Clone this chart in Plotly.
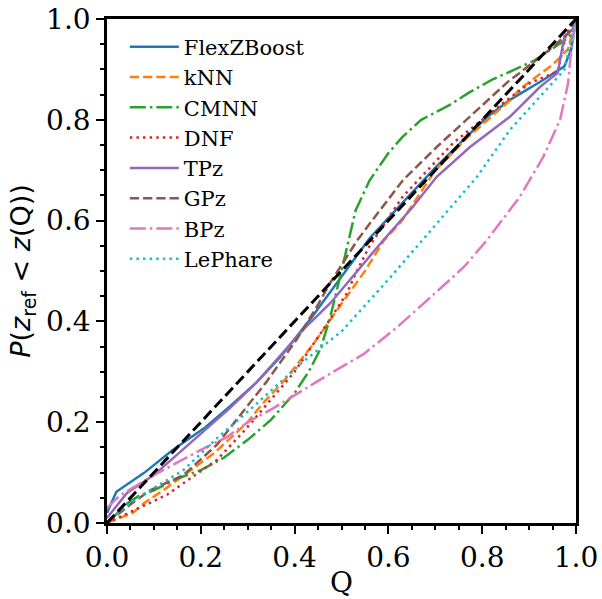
import plotly.graph_objects as go

# ---- data ----
names = ["FlexZBoost", "kNN", "CMNN", "DNF", "TPz", "GPz", "BPz", "LePhare"]
colors = ["#1f77b4", "#ff7f0e", "#2ca02c", "#d62728", "#9467bd", "#8c564b", "#e377c2", "#17becf"]

q_flex = [0, 0.02, 0.08, 0.14, 0.21, 0.26, 0.32, 0.37, 0.43, 0.5, 0.56, 0.63, 0.7, 0.76, 0.81, 0.86, 0.93, 0.975, 0.99, 1.0]
p_flex = [0.02, 0.062, 0.1, 0.145, 0.19, 0.23, 0.28, 0.33, 0.4, 0.49, 0.565, 0.635, 0.705, 0.76, 0.805, 0.84, 0.879, 0.906, 0.94, 1.0]

q_knn = [0, 0.025, 0.055, 0.08, 0.12, 0.16, 0.23, 0.3, 0.33, 0.38, 0.44, 0.5, 0.55, 0.59, 0.63, 0.7, 0.77, 0.86, 0.88, 0.95, 0.983, 1.0]
p_knn = [0, 0.009, 0.02, 0.04, 0.065, 0.092, 0.14, 0.2, 0.235, 0.285, 0.355, 0.435, 0.5, 0.56, 0.601, 0.7, 0.766, 0.839, 0.861, 0.909, 0.94, 1.0]

q_cmnn = [0, 0.045, 0.07, 0.1, 0.15, 0.2, 0.25, 0.3, 0.35, 0.4, 0.43, 0.455, 0.475, 0.49, 0.5, 0.515, 0.53, 0.56, 0.6, 0.63, 0.67, 0.73, 0.77, 0.82, 0.91, 0.975, 0.99, 1.0]
p_cmnn = [0, 0.04, 0.055, 0.065, 0.088, 0.105, 0.13, 0.165, 0.205, 0.258, 0.3, 0.345, 0.405, 0.46, 0.5, 0.56, 0.62, 0.68, 0.734, 0.766, 0.8, 0.829, 0.853, 0.879, 0.917, 0.957, 0.97, 1.0]

q_dnf = [0, 0.028, 0.07, 0.128, 0.18, 0.234, 0.29, 0.34, 0.4, 0.469, 0.511, 0.53, 0.56, 0.63, 0.738, 0.844, 0.902, 0.961, 0.979, 1.0]
p_dnf = [0, 0.012, 0.03, 0.056, 0.09, 0.125, 0.18, 0.235, 0.3, 0.395, 0.455, 0.495, 0.55, 0.647, 0.754, 0.833, 0.873, 0.896, 0.97, 1.0]

q_tpz = [0, 0.043, 0.1, 0.18, 0.262, 0.32, 0.369, 0.42, 0.476, 0.53, 0.589, 0.65, 0.703, 0.774, 0.859, 0.923, 0.961, 0.975, 0.993, 1.0]
p_tpz = [0.01, 0.06, 0.095, 0.16, 0.228, 0.28, 0.332, 0.385, 0.436, 0.495, 0.561, 0.625, 0.687, 0.746, 0.806, 0.865, 0.893, 0.964, 0.98, 1.0]

q_gpz = [0, 0.049, 0.092, 0.163, 0.234, 0.284, 0.34, 0.405, 0.448, 0.475, 0.533, 0.561, 0.631, 0.703, 0.774, 0.859, 0.88, 0.953, 0.99, 1.0]
p_gpz = [0, 0.036, 0.065, 0.095, 0.155, 0.215, 0.28, 0.365, 0.43, 0.475, 0.56, 0.595, 0.68, 0.746, 0.806, 0.879, 0.893, 0.946, 0.978, 1.0]

q_bpz = [0, 0.028, 0.1, 0.15, 0.2, 0.255, 0.3, 0.355, 0.42, 0.475, 0.547, 0.618, 0.69, 0.761, 0.81, 0.88, 0.93, 0.966, 0.983, 0.99, 0.995, 1.0]
p_bpz = [0.03, 0.055, 0.095, 0.12, 0.145, 0.17, 0.2, 0.228, 0.265, 0.296, 0.335, 0.388, 0.448, 0.508, 0.561, 0.647, 0.726, 0.8, 0.872, 0.94, 0.97, 1.0]

q_leph = [0, 0.049, 0.092, 0.163, 0.234, 0.305, 0.418, 0.5, 0.6, 0.703, 0.789, 0.859, 0.938, 0.975, 0.99, 1.0]
p_leph = [0, 0.04, 0.065, 0.105, 0.168, 0.225, 0.32, 0.38, 0.483, 0.595, 0.687, 0.78, 0.86, 0.899, 0.96, 1.0]

q_diag = [0, 1]
p_diag = [0, 1]

qs = [q_flex, q_knn, q_cmnn, q_dnf, q_tpz, q_gpz, q_bpz, q_leph]
ps = [p_flex, p_knn, p_cmnn, p_dnf, p_tpz, p_gpz, p_bpz, p_leph]

lw = 2.5
dash_styles = {
    "solid": "solid",
    "dashed": "9.25px,4px",
    "dashdot": "16px,4px,2.5px,4px",
    "dotted": "2.5px,4.1px",
}
styles = ["solid", "dashed", "dashdot", "dotted", "solid", "dashed", "dashdot", "dotted"]

fig = go.Figure()
for name, color, q, p, st in zip(names, colors, qs, ps, styles):
    fig.add_trace(go.Scatter(x=q, y=p, mode="lines", name=name,
                             line=dict(color=color, width=lw, dash=dash_styles[st])))
fig.add_trace(go.Scatter(x=q_diag, y=p_diag, mode="lines", showlegend=False,
                         line=dict(color="black", width=3, dash="11px,4.8px")))

tickfont = dict(family="DejaVu Serif", size=28, color="black")
axis_common = dict(range=[0, 1], showgrid=False, zeroline=False, showline=True,
                   linewidth=2.5, linecolor="black", mirror=True, automargin=False,
                   ticks="outside", ticklen=8, tickwidth=2, tickcolor="black",
                   tick0=0, dtick=0.2, tickformat=".1f", tickfont=tickfont,
                   minor=dict(ticks="outside", ticklen=4, tickwidth=1.5, tickcolor="black", dtick=0.05))

fig.update_layout(
    width=602, height=599,
    margin=dict(l=107, r=26, t=19, b=76, autoexpand=False),
    plot_bgcolor="white", paper_bgcolor="white",
    xaxis=dict(**axis_common, title=dict(text="Q", font=dict(family="DejaVu Serif", size=28, color="black"), standoff=0)),
    yaxis=dict(**axis_common, title=dict(text="<i>P</i>(<i>z</i><sub>ref</sub> &lt; <i>z</i>(Q))",
                                         font=dict(family="DejaVu Sans", size=27, color="black"), standoff=8)),
    legend=dict(x=0.038, y=0.985, xanchor="left", yanchor="top", bgcolor="rgba(0,0,0,0)",
                font=dict(family="DejaVu Serif", size=21, color="black"), itemwidth=49),
    showlegend=True,
)

fig.write_html("out.html")
